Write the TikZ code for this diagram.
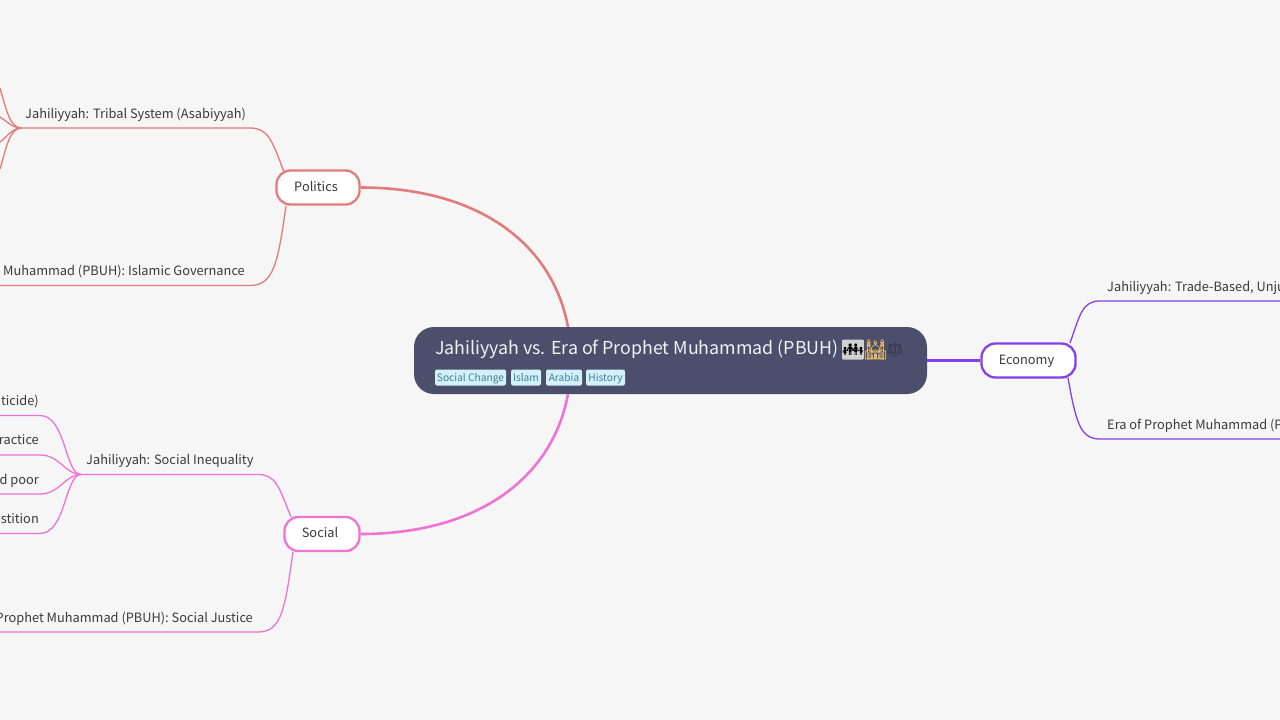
\documentclass[tikz,border=0pt]{standalone}
\usepackage{fontspec}
\setmainfont{Noto Sans CJK SC}
\newfontfamily\emojifont{Noto Emoji}
\definecolor{bgpage}{HTML}{F6F6F6}
\definecolor{rootfill}{HTML}{4C4F6B}
\definecolor{polline}{HTML}{E27B7B}
\definecolor{socline}{HTML}{EF73D3}
\definecolor{ecoline}{HTML}{8540EC}
\definecolor{tagfill}{HTML}{D3F1FA}
\definecolor{tagtext}{HTML}{3F7F96}
\definecolor{labeltext}{HTML}{3A3A3A}
\definecolor{mosquetone}{HTML}{EFBE6C}
\tikzset{
  topicbox/.style={draw=#1, line width=2.3pt, fill=white, rounded corners=14pt, text=labeltext, font=\fontsize{12.8}{15}\selectfont, inner sep=0pt, minimum height=34pt, text height=9pt, text depth=2pt, execute at end node=\hspace*{4pt}},
  leaflabel/.style={text=labeltext, font=\fontsize{12.8}{15}\selectfont, inner sep=0pt},
  tagchip/.style={fill=tagfill, text=tagtext, rounded corners=2pt, font=\fontsize{10.2}{12}\selectfont, inner sep=0pt, minimum height=16pt, text height=9pt, text depth=1.5pt},
  mainedge/.style={line width=2.6pt},
  subedge/.style={line width=1.3pt}
}
\begin{document}
\begin{tikzpicture}[x=1pt, y=-1pt]
  \useasboundingbox[fill=bgpage] (0,0) rectangle (1280,720);

  % centre
  \node[fill=rootfill, rounded corners=20pt, minimum width=513pt, minimum height=67pt, inner sep=0pt] (root) at (670.5,360.5) {};
  \node[anchor=base west, inner sep=0pt, text=white!95!black, font=\fontsize{17.8}{20}\selectfont] (title) at (435,354) {Jahiliyyah vs. Era of Prophet Muhammad (PBUH)};
  \node[fill=black!18, text=black, inner sep=0pt, minimum width=21pt, minimum height=20pt, rounded corners=1pt, font=\emojifont\fontsize{17}{19}\selectfont] (family) at (853,349.5) {^^^^^^01f468^^^^200d^^^^^^01f469^^^^200d^^^^^^01f467^^^^200d^^^^^^01f466};
  \node[text=mosquetone, inner sep=0pt, font=\emojifont\fontsize{20}{22}\selectfont] (mosque) at (875.5,349.5) {^^^^^^01f54c};
  \node[text=rootfill!70!black, inner sep=0pt, font=\emojifont\fontsize{14}{16}\selectfont] (scales) at (895,350) {^^^^2696};

  \node[tagchip, minimum width=71pt] (tagchange) at (470.5,377.5) {Social Change};
  \node[tagchip, minimum width=30pt] (tagislam) at (526,377.5) {Islam};
  \node[tagchip, minimum width=36pt] (tagarabia) at (564,377.5) {Arabia};
  \node[tagchip, minimum width=39pt] (taghistory) at (605.5,377.5) {History};

  % topics
  \node[topicbox=polline, minimum width=83pt] (politics) at (318,187.5) {Politics};
  \node[topicbox=socline, minimum width=75pt] (social) at (322,534) {Social};
  \node[topicbox=ecoline, minimum width=94pt] (economy) at (1028.5,360.5) {Economy};

  \coordinate (roottop) at (568,327);
  \coordinate (rootbot) at (568,394);
  \draw[mainedge, polline] (politics.east) .. controls (480,187.5) and (553,245) .. (roottop);
  \draw[mainedge, socline] (social.east) .. controls (480,534) and (553,476) .. (rootbot);
  \draw[mainedge, ecoline] (root.east) -- (economy.west);

  % politics side
  \coordinate (polup) at (284,172);
  \coordinate (poldn) at (286,206);
  \coordinate (poljoin) at (22,128);
  \coordinate (polgov) at (0,285.5);
  \draw[subedge, polline] (polup) .. controls (272,140) and (268,128) .. (250,128) -- (poljoin);
  \draw[subedge, polline] (poldn) .. controls (278,262) and (274,285.5) .. (250,285.5) -- (polgov);
  \coordinate (polfana) at (0,88);
  \coordinate (polfanb) at (0,117);
  \coordinate (polfanc) at (0,142);
  \coordinate (polfand) at (0,169);
  \draw[subedge, polline] (poljoin) .. controls (10,128) and (7,112) .. (polfana);
  \draw[subedge, polline] (poljoin) .. controls (12,128) and (8,122) .. (polfanb);
  \draw[subedge, polline] (poljoin) .. controls (12,128) and (8,136) .. (polfanc);
  \draw[subedge, polline] (poljoin) .. controls (10,128) and (7,145) .. (polfand);
  \node[leaflabel, anchor=base west] (poltribal) at (25,118) {Jahiliyyah: Tribal System (Asabiyyah)};
  \node[leaflabel, anchor=base east] (polislam) at (245,275) {Muhammad (PBUH): Islamic Governance};

  % social side
  \coordinate (socup) at (291,517);
  \coordinate (socdn) at (293,552);
  \coordinate (socjoin) at (81,474.5);
  \coordinate (socjust) at (0,632);
  \draw[subedge, socline] (socup) .. controls (279,487) and (276,474.5) .. (258,474.5) -- (socjoin);
  \draw[subedge, socline] (socdn) .. controls (285,608) and (282,632) .. (258,632) -- (socjust);
  \coordinate (socfana) at (0,415.5);
  \coordinate (socfanb) at (0,455);
  \coordinate (socfanc) at (0,494);
  \coordinate (socfand) at (0,533.5);
  \draw[subedge, socline] (socjoin) .. controls (65,474.5) and (66,415.5) .. (40,415.5) -- (socfana);
  \draw[subedge, socline] (socjoin) .. controls (65,474.5) and (60,455) .. (40,455) -- (socfanb);
  \draw[subedge, socline] (socjoin) .. controls (65,474.5) and (60,494) .. (40,494) -- (socfanc);
  \draw[subedge, socline] (socjoin) .. controls (65,474.5) and (66,533.5) .. (40,533.5) -- (socfand);
  \node[leaflabel, anchor=base west] (socineq) at (86,464) {Jahiliyyah: Social Inequality};
  \node[leaflabel, anchor=base east] (socjustice) at (253,622) {Prophet Muhammad (PBUH): Social Justice};
  \node[leaflabel, anchor=base east] (socinfant) at (39,405) {ticide)};
  \node[leaflabel, anchor=base east] (socpractice) at (39,444) {ractice};
  \node[leaflabel, anchor=base east] (socpoor) at (39,484) {d poor};
  \node[leaflabel, anchor=base east] (socsuper) at (39,523) {stition};

  % economy side
  \coordinate (ecoup) at (1070,343);
  \coordinate (ecodn) at (1068,378);
  \coordinate (ecotrade) at (1280,301);
  \coordinate (ecoera) at (1280,439);
  \draw[subedge, ecoline] (ecoup) .. controls (1080,315) and (1082,301) .. (1100,301) -- (ecotrade);
  \draw[subedge, ecoline] (ecodn) .. controls (1076,422) and (1080,439) .. (1100,439) -- (ecoera);
  \node[leaflabel, anchor=base west] (ecounjust) at (1107,291) {Jahiliyyah: Trade-Based, Unju};
  \node[leaflabel, anchor=base west] (ecoprophet) at (1107,429) {Era of Prophet Muhammad (P};
\end{tikzpicture}
\end{document}
